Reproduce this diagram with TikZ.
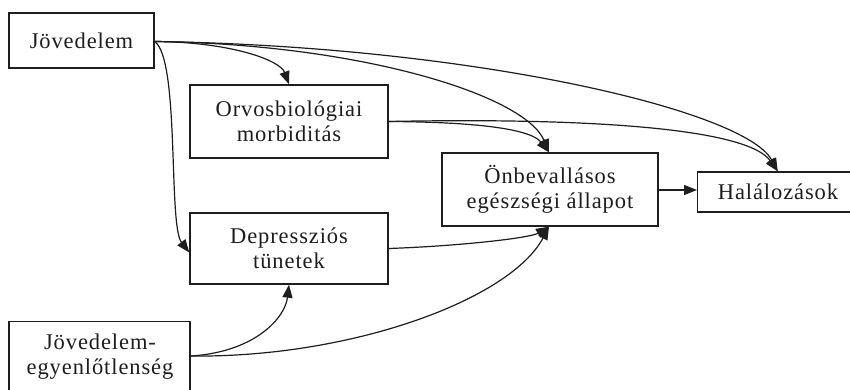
\documentclass[tikz,border=0pt]{standalone}
\usepackage{fontspec}
\setmainfont{Liberation Serif}[LetterSpace=4]
\usetikzlibrary{arrows.meta}
\definecolor{ink}{HTML}{1E1E1E}
\tikzset{
  box/.style={draw=ink, line width=1.4pt, rectangle, inner sep=0pt},
  lbl/.style={font=\fontsize{22.5}{25}\selectfont, text=ink, align=center, inner sep=0pt},
  conn/.style={draw=ink, line width=1.2pt, -{Triangle[length=13pt,width=10pt]}},
}
\begin{document}
\begin{tikzpicture}[x=1pt,y=-1pt]
\useasboundingbox (0,0) rectangle (850,390);
\clip (0,0) rectangle (850,390);
\fill[white] (0,0) rectangle (850,390);
% boxes
\node[box, lbl, minimum width=145pt, minimum height=55pt] (J) at (81.5,40.5) {Jövedelem};
\node[box, lbl, minimum width=198pt, minimum height=73pt] (O) at (289,121.5) {Orvosbiológiai\\morbiditás};
\node[box, lbl, minimum width=198pt, minimum height=71pt] (D) at (289,248.5) {Depressziós\\tünetek};
\node[box, lbl, minimum width=216pt, minimum height=73pt] (S) at (550,189.5) {Önbevallásos\\egészségi állapot};
\node[box, minimum width=181pt, minimum height=90pt, anchor=north] (JE) at (99.5,321) {};
\node[lbl] (JEt) at (100,357) {Jövedelem-\\egyenlőtlenség};
\node[box, minimum width=180pt, minimum height=40pt, anchor=west] (H) at (697,192) {};
\node[lbl] (Ht) at (778,192) {Halálozások};
% connectors
\coordinate (Jd) at ([yshift=-1pt]J.east);
\draw[conn] (Jd) .. controls (230,42) and (280,60) .. (O.north);
\draw[conn] (Jd) .. controls (360,44) and (525,95) .. ([xshift=-1pt]S.north);
\draw[conn] (Jd) .. controls (470,46) and (745,110) .. ([xshift=-10pt]H.north);
\draw[conn] (Jd) .. controls (180,60) and (168,225) .. ([yshift=-4pt]D.west);
\draw[conn] (O.east) .. controls (470,122) and (530,128) .. ([xshift=-1pt]S.north);
\draw[conn] (O.east) .. controls (560,118) and (745,125) .. ([xshift=-10pt]H.north);
\draw[conn] (D.east) .. controls (460,246) and (530,238) .. ([xshift=-1pt]S.south);
\draw[conn] (JE.east |- 0,356) .. controls (255,352) and (285,318) .. (D.south);
\draw[conn] (JE.east |- 0,356) .. controls (350,358) and (510,300) .. ([xshift=-1pt]S.south);
\draw[conn] (S.east |- 0,190) -- (H.west |- 0,190);
\end{tikzpicture}
\end{document}
